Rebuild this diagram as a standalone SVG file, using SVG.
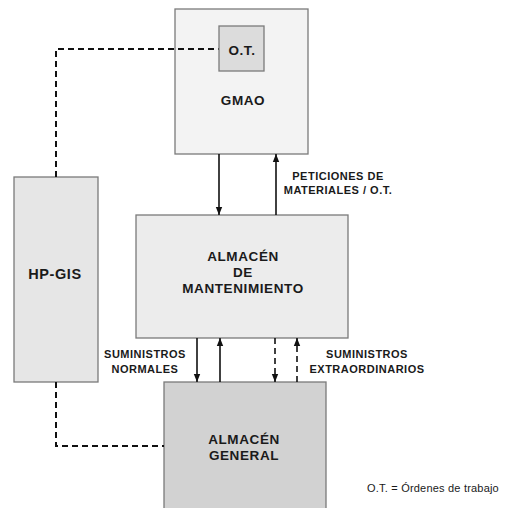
<svg xmlns="http://www.w3.org/2000/svg" width="505" height="508" viewBox="0 0 505 508">
<style>
.box{stroke:#7a7a7a;stroke-width:1.3}
.lbl{font-family:"Liberation Sans",Arial,sans-serif;font-weight:bold;fill:#1a1a1a;text-anchor:middle}
.big{font-size:13.5px;letter-spacing:0.6px}
.sm{font-size:11px;letter-spacing:0.5px}
.solid{stroke:#111;stroke-width:1.6;fill:none}
.dash{stroke:#111;stroke-width:2;fill:none;stroke-dasharray:6,4}
</style>
<defs>
<marker id="ah" viewBox="0 0 10 10" refX="10" refY="5" markerWidth="5" markerHeight="5" orient="auto" markerUnits="strokeWidth">
<path d="M0,1 L10,5 L0,9 Z" fill="#111"/>
</marker>
</defs>
<rect width="505" height="508" fill="#fff"/>
<g id="gmao">
<rect class="box" x="175" y="9" width="133" height="145" fill="#f3f3f3"/>
<text class="lbl big" x="243" y="105">GMAO</text>
</g>
<g id="hpgis">
<rect class="box" x="14" y="177" width="84" height="205" fill="#e6e6e6"/>
<text class="lbl" x="55" y="279" style="font-size:14.5px;letter-spacing:0.6px">HP-GIS</text>
</g>
<g id="mantenimiento">
<rect class="box" x="136" y="215" width="212" height="123" fill="#ececec"/>
<text class="lbl big" x="243" y="261">ALMACÉN</text>
<text class="lbl big" x="243" y="277">DE</text>
<text class="lbl big" x="243" y="293">MANTENIMIENTO</text>
</g>
<g id="general">
<rect class="box" x="164" y="382" width="162" height="130" fill="#d2d2d2"/>
<text class="lbl big" x="244" y="444">ALMACÉN</text>
<text class="lbl big" x="244" y="460">GENERAL</text>
</g>
<g id="connectors">
<path class="dash" d="M56,177 V49 H219"/>
<path class="dash" d="M56,382 V446 H164"/>
<line class="solid" x1="219" y1="154" x2="219" y2="215" marker-end="url(#ah)"/>
<line class="solid" x1="276" y1="215" x2="276" y2="154" marker-end="url(#ah)"/>
<line class="solid" x1="197" y1="338" x2="197" y2="382" marker-end="url(#ah)"/>
<line class="solid" x1="220" y1="382" x2="220" y2="338" marker-end="url(#ah)"/>
<line class="dash" x1="275" y1="338" x2="275" y2="382" marker-end="url(#ah)" style="stroke-width:1.6"/>
<line class="dash" x1="297" y1="382" x2="297" y2="338" marker-end="url(#ah)" style="stroke-width:1.6"/>
</g>
<g id="ot">
<rect class="box" x="219" y="26" width="45" height="45" fill="#dcdcdc"/>
<text class="lbl big" x="242" y="55">O.T.</text>
</g>
<g id="labels">
<text class="lbl sm" x="338" y="180">PETICIONES DE</text>
<text class="lbl sm" x="338" y="194">MATERIALES / O.T.</text>
<text class="lbl sm" x="145" y="358">SUMINISTROS</text>
<text class="lbl sm" x="145" y="373">NORMALES</text>
<text class="lbl sm" x="367" y="358">SUMINISTROS</text>
<text class="lbl sm" x="367" y="373">EXTRAORDINARIOS</text>
<text x="433" y="492" style="font-family:'Liberation Sans',Arial,sans-serif;font-size:11px;fill:#1a1a1a;text-anchor:middle;letter-spacing:0.2px">O.T. = Órdenes de trabajo</text>
</g>
</svg>
